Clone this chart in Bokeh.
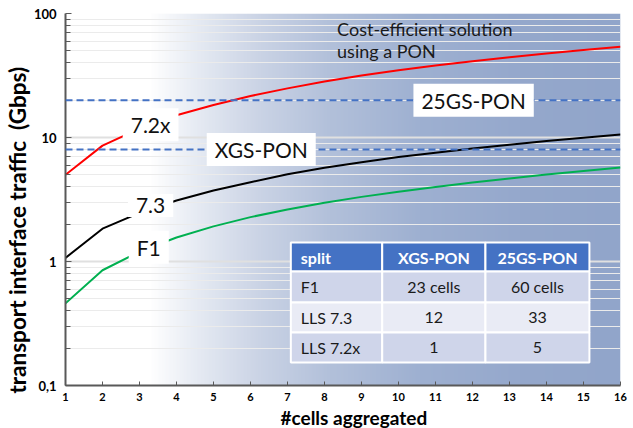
import numpy as np
from bokeh.plotting import figure
from bokeh.models import FixedTicker, Span, Label, CustomJSTickFormatter, Range1d, Title
from bokeh.core.properties import value
from bokeh.embed import file_html
from bokeh.resources import INLINE

# ---------------- data ----------------
cells = list(range(1, 17))
split_72x = [5.0, 8.6, 11.8, 15.1, 18.3, 21.6, 24.9, 28.3, 31.6, 34.8, 38.0, 41.2, 44.4, 47.6, 50.8, 54.0]
split_73 = [1.07, 1.84, 2.47, 3.1, 3.74, 4.36, 5.05, 5.7, 6.32, 6.95, 7.55, 8.15, 8.75, 9.35, 9.95, 10.55]
split_f1 = [0.46, 0.85, 1.2, 1.56, 1.92, 2.28, 2.63, 2.98, 3.32, 3.65, 3.99, 4.33, 4.67, 5.02, 5.36, 5.72]

xgs_pon_rate = 8
gs25_pon_rate = 20

y_tick_values = [0.1, 1, 10, 100]
y_tick_labels = ["0,1", "1", "10", "100"]

table_header = ["split", "XGS-PON", "25GS-PON"]
table_split = ["F1", "LLS 7.3", "LLS 7.2x"]
table_xgs = ["23 cells", "12", "1"]
table_25gs = ["60 cells", "33", "5"]

FONT = "Lato"

p = figure(width=633, height=428, y_axis_type="log",
           x_range=Range1d(1, 16), y_range=Range1d(0.1, 100),
           output_backend="svg", toolbar_location=None,
           min_border_left=65, min_border_right=13, min_border_top=13, min_border_bottom=43)
p.outline_line_color = None
p.background_fill_color = "white"

# ---------------- background gradient ----------------
N = 400
gx = np.linspace(1, 16, N)
stop_x = [1.0, 3.3, 4.66, 6.28, 8.18, 10.61, 13.32, 16.0]
stop_r = [255, 255, 228, 202, 178, 158, 149, 145]
stop_g = [255, 255, 233, 211, 192, 176, 168, 165]
stop_b = [255, 255, 242, 229, 218, 209, 204, 202]
img = np.empty((1, N), dtype=np.uint32)
view = img.view(dtype=np.uint8).reshape((1, N, 4))
view[0, :, 0] = np.interp(gx, stop_x, stop_r).astype(np.uint8)
view[0, :, 1] = np.interp(gx, stop_x, stop_g).astype(np.uint8)
view[0, :, 2] = np.interp(gx, stop_x, stop_b).astype(np.uint8)
view[0, :, 3] = 255
bg = p.image_rgba(image=[img], x=1, y=0.1, dw=15, dh=99.9)
bg.level = "image"

# ---------------- grid ----------------
minor = [d * k for d in (0.1, 1, 10) for k in range(2, 10)]
p.yaxis.ticker = FixedTicker(ticks=y_tick_values, minor_ticks=minor)
p.xaxis.ticker = FixedTicker(ticks=cells)
p.xgrid.grid_line_color = None
p.ygrid.grid_line_color = "#e0e0e0"
p.ygrid.grid_line_width = 2
p.ygrid.minor_grid_line_color = "#ebebeb"
p.ygrid.minor_grid_line_width = 1

# ---------------- PON capacity lines ----------------
for rate in (xgs_pon_rate, gs25_pon_rate):
    p.add_layout(Span(location=rate, dimension="width", line_color="#4472c4",
                      line_width=2, line_dash="7 4"))

# ---------------- series ----------------
p.line(cells, split_72x, line_color="#ff0000", line_width=2)
p.line(cells, split_73, line_color="#000000", line_width=2)
p.line(cells, split_f1, line_color="#00b050", line_width=2)

# ---------------- labels with white boxes ----------------
def boxed(x, y, text):
    p.add_layout(Label(x=x, y=y, text=text, text_align="center", text_baseline="middle",
                       text_font=FONT, text_font_size="21px", text_color="#111111",
                       background_fill_color="white", background_fill_alpha=1.0,
                       padding=dict(left=8, right=8, top=4, bottom=4)))

boxed(3.3, 12.7, "7.2x")
boxed(3.3, 2.83, "7.3")
boxed(3.25, 1.30, "F1")
boxed(6.29, xgs_pon_rate, "XGS-PON")
boxed(12.03, gs25_pon_rate, "25GS-PON")

for yy, txt in ((74.7, "Cost-efficient solution"), (50.3, "using a PON")):
    p.add_layout(Label(x=8.34, y=yy, text=txt, text_align="left", text_baseline="middle",
                       text_font=FONT, text_font_size="18px", text_color="#1a1a1a"))

# ---------------- table ----------------
col_edges = [7.09, 9.56, 12.35, 15.16]
row_edges = [1.42, 0.831, 0.467, 0.268, 0.153]
row_fill = ["#4472c4", "#cfd5ea", "#e9ebf5", "#cfd5ea"]
rows = [table_header] + [[a, b, c] for a, b, c in zip(table_split, table_xgs, table_25gs)]
ql, qr, qt, qb, qc = [], [], [], [], []
for ri in range(4):
    for ci in range(3):
        ql.append(col_edges[ci]); qr.append(col_edges[ci + 1])
        qt.append(row_edges[ri]); qb.append(row_edges[ri + 1])
        qc.append(row_fill[ri])
p.quad(left=ql, right=qr, top=qt, bottom=qb, fill_color=qc, line_color="white", line_width=2)

for ri, row in enumerate(rows):
    yc = float(np.sqrt(row_edges[ri] * row_edges[ri + 1]))
    header = ri == 0
    for ci, txt in enumerate(row):
        if ci == 0:
            xc, align = col_edges[0] + 0.27, "left"
        else:
            xc, align = (col_edges[ci] + col_edges[ci + 1]) / 2, "center"
        p.text(x=[xc], y=[yc], text=[txt], text_align=align, text_baseline="middle",
               text_font=value(FONT), text_font_size="16px",
               text_font_style="bold" if header else "normal",
               text_color="white" if header else "#1a1a1a")

# ---------------- axes ----------------
p.yaxis.formatter = CustomJSTickFormatter(
    args=dict(vals=y_tick_values, labs=y_tick_labels),
    code="""
    for (let i = 0; i < vals.length; i++) {
        if (Math.abs(Math.log10(tick) - Math.log10(vals[i])) < 1e-6) return labs[i];
    }
    return '';
    """)

for ax in (p.xaxis[0], p.yaxis[0]):
    ax.axis_line_color = "#595959"
    ax.axis_line_width = 2
    ax.major_tick_line_color = "#595959"
    ax.minor_tick_line_color = "#595959"
    ax.major_tick_out = 0
    ax.minor_tick_out = 0
    ax.major_label_text_font = FONT
    ax.major_label_text_font_style = "bold"
    ax.major_label_text_color = "#000000"

p.yaxis.major_tick_in = 6
p.yaxis.minor_tick_in = 5
p.yaxis.major_label_text_font_size = "13px"
p.yaxis.major_label_standoff = 9

p.xaxis.major_tick_in = 4
p.xaxis.minor_tick_in = 0
p.xaxis.major_label_text_font_size = "11px"
p.xaxis.major_label_standoff = 7

# axis titles as side titles, aligned from the start with an offset like the reference
p.add_layout(Title(text="transport interface traffic \u00a0(Gbps)", align="left", offset=-8,
                   text_font=FONT, text_font_size="22.5px", text_font_style="bold",
                   text_color="#000000", standoff=0), "left")
p.add_layout(Title(text="#cells aggregated", align="left", offset=215,
                   text_font=FONT, text_font_size="19px", text_font_style="bold",
                   text_color="#000000", standoff=0), "below")

open("out.html", "w").write(file_html(p, INLINE))
